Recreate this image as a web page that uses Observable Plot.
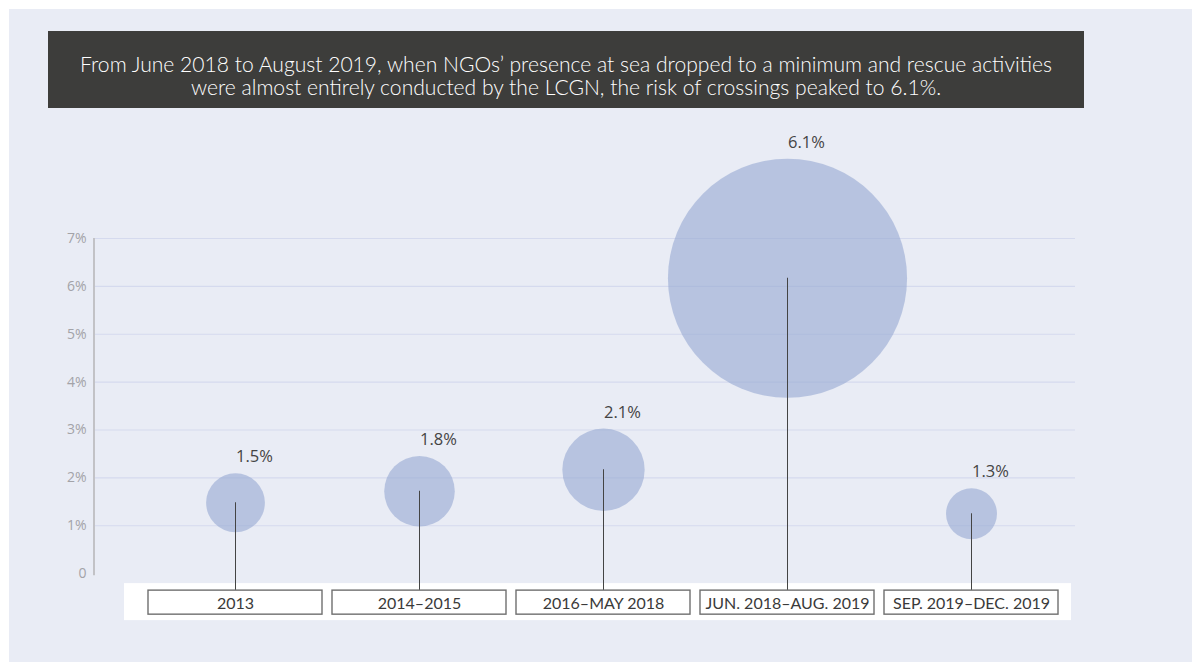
<!DOCTYPE html>
<html>
<head>
<meta charset="utf-8">
<script src="https://cdn.jsdelivr.net/npm/d3@7"></script>
<script src="https://cdn.jsdelivr.net/npm/@observablehq/plot@0.6"></script>
<style>
  html, body { margin: 0; padding: 0; background: #ffffff; width: 1192px; height: 662px; overflow: hidden; }
  #panel { position: absolute; left: 9px; top: 9px; right: 0; bottom: 0; background: #e9ecf5; }
  #title { position: absolute; left: 48px; top: 31px; width: 1036px; height: 77px; background: #3d3d3b; color: #ffffff;
           font-family: Lato, "Open Sans", sans-serif; font-weight: 300; font-size: 21.1px; line-height: 23px; text-align: center;
           box-sizing: border-box; padding-top: 21px; }
  #chart { position: absolute; left: 0; top: 0; }
  #chart svg { background: transparent; overflow: visible; }
</style>
</head>
<body>
<div id="panel"></div>
<div id="title">From June 2018 to August 2019, when NGOs’ presence at sea dropped to a minimum and rescue activities<br>were almost entirely conducted by the LCGN, the risk of crossings peaked to 6.1%.</div>
<div id="chart"></div>
<script>
// Periods (x categories)
const periods = ["2013", "2014–2015", "2016–MAY 2018", "JUN. 2018–AUG. 2019", "SEP. 2019–DEC. 2019"];
// Risk of crossing (%), drives bubble size and labels
const riskValues = [1.5, 1.8, 2.1, 6.1, 1.3];
// Vertical level (%) where each bubble centre sits
const centreLevels = [1.48, 1.72, 2.17, 6.17, 1.25];
// Y-axis ticks (%)
const yTicks = [0, 1, 2, 3, 4, 5, 6, 7];

const data = periods.map((p, i) => ({period: p, value: riskValues[i], level: centreLevels[i]}));

const W = 1192, H = 662;
const mTop = 238, mBottom = 41;
const yDomain = [-1, 7];
const yPxPerUnit = (H - mTop - mBottom) / (yDomain[1] - yDomain[0]);
const rMaxPx = 137.2; // radius at 7%
const rPxPerUnit = rMaxPx / 7;

const boxTop = -0.355, boxBottom = -0.857;

const backdrop = (index, scales, values, dimensions) => {
  const g = d3.create("svg:g");
  const x = scales.x, y = scales.y;
  const bw = x.bandwidth ? x.bandwidth() : 0;
  const left = x(periods[0]) - 24;
  const right = x(periods[periods.length - 1]) + bw + 13;
  g.append("rect")
    .attr("x", left).attr("y", y(0) + 10)
    .attr("width", right - left).attr("height", 37)
    .attr("fill", "#ffffff");
  g.append("line")
    .attr("x1", dimensions.marginLeft - 1).attr("x2", dimensions.marginLeft - 1)
    .attr("y1", y(7)).attr("y2", y(0) + 2)
    .attr("stroke", "#c2c2c6").attr("stroke-width", 2);
  return g.node();
};

const chart = Plot.plot({
  width: W,
  height: H,
  marginTop: mTop,
  marginBottom: mBottom,
  marginLeft: 95,
  marginRight: 117,
  style: {background: "transparent", overflow: "visible"},
  x: {type: "band", domain: periods, paddingInner: 0.052, paddingOuter: 0.1846, align: 0.765, axis: null},
  y: {domain: yDomain, axis: null},
  r: {type: "linear", domain: [0, 7], range: [0, rMaxPx]},
  marks: [
    backdrop,
    Plot.ruleY(yTicks.filter(d => d > 0), {stroke: "#d5daee", strokeWidth: 1.2}),
    Plot.axisY({
      ticks: yTicks, tickSize: 0, tickPadding: 9, label: null,
      tickFormat: d => d === 0 ? "0" : d + "%",
      fontSize: 14, fill: "#a3a3a8",
      fontFamily: "'Open Sans', 'Noto Sans', sans-serif"
    }),
    Plot.dot(data, {x: "period", y: "level", r: "value", fill: "#96a8d2", fillOpacity: 0.6, stroke: "none"}),
    Plot.ruleX(data, {x: "period", y1: boxTop, y2: "level", stroke: "#444444", strokeWidth: 1}),
    Plot.barY(data, {x: "period", y1: boxTop, y2: boxBottom, fill: "#ffffff", stroke: "#6f6f6f", strokeWidth: 1.4}),
    Plot.text(data, {
      x: "period", y: (boxTop + boxBottom) / 2, text: "period",
      fontSize: 16, fontWeight: 400, fill: "#3a3a3a", fontFamily: "Lato, 'Open Sans', sans-serif", dy: 1
    }),
    Plot.text(data, {
      x: "period",
      y: d => d.level + d.value * rPxPerUnit / yPxPerUnit,
      text: d => d.value.toFixed(1) + "%",
      dx: 19, dy: -11, lineAnchor: "bottom",
      fontSize: 16.5, fill: "#444444", fontFamily: "'Open Sans', 'Noto Sans', sans-serif"
    })
  ]
});
document.getElementById("chart").appendChild(chart);
</script>
</body>
</html>
